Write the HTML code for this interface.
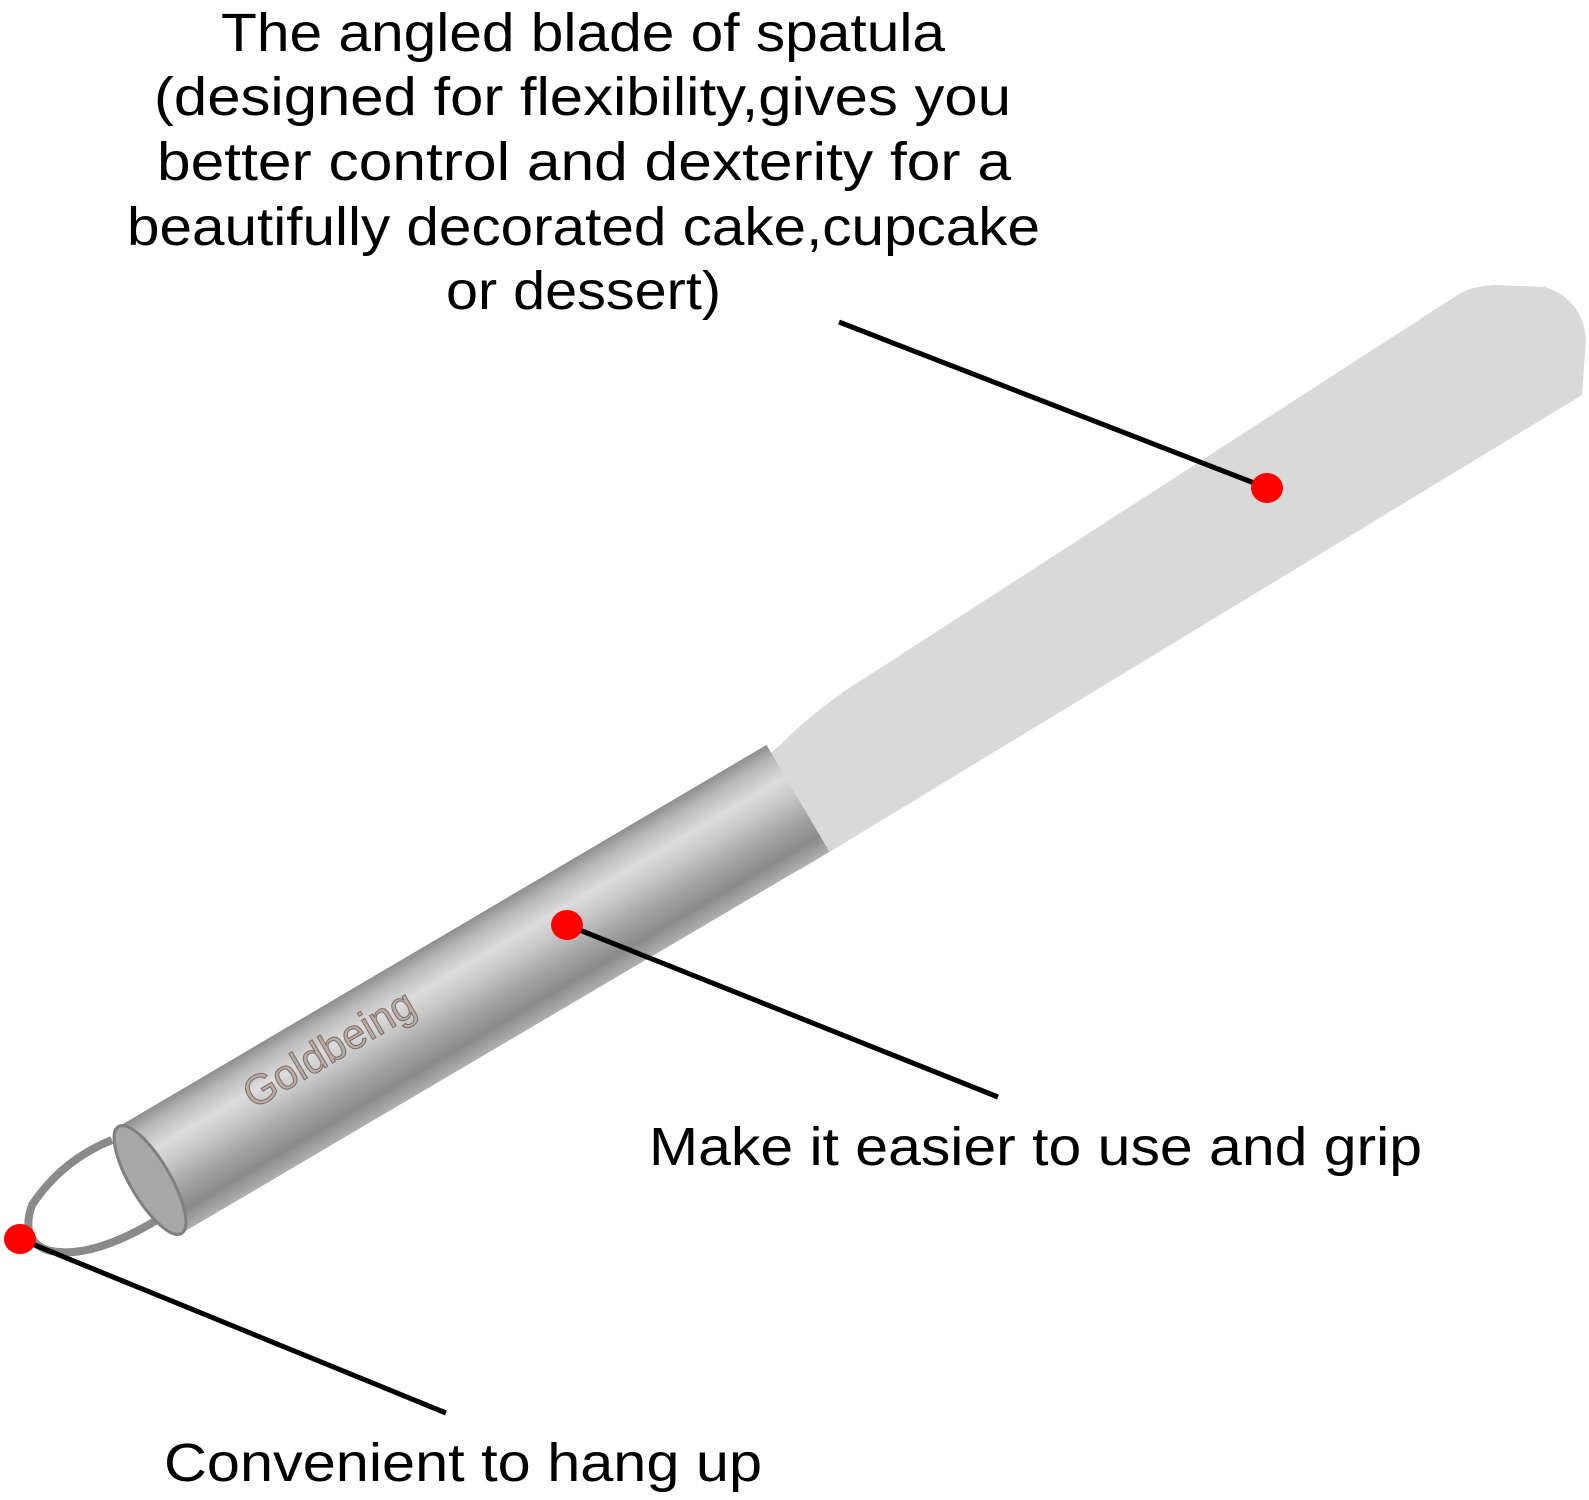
<!DOCTYPE html>
<html><head><style>html,body{margin:0;padding:0;background:#fff;}svg{display:block}</style></head>
<body>
<svg width="1589" height="1500" viewBox="0 0 1589 1500" xmlns="http://www.w3.org/2000/svg">
<defs>
<linearGradient id="hg" x1="0" y1="0" x2="0" y2="1">
<stop offset="0" stop-color="#8e8e8e"/>
<stop offset="0.12" stop-color="#b8b8b8"/>
<stop offset="0.3" stop-color="#dcdcdc"/>
<stop offset="0.45" stop-color="#c9c9c9"/>
<stop offset="0.65" stop-color="#a6a6a6"/>
<stop offset="0.85" stop-color="#8a8a8a"/>
<stop offset="1" stop-color="#b0b0b0"/>
</linearGradient>
</defs>
<g font-family="Liberation Sans, sans-serif" font-size="54" fill="#000">
<text x="221" y="51" textLength="724" lengthAdjust="spacingAndGlyphs">The angled blade of spatula</text>
<text x="154" y="115" textLength="857" lengthAdjust="spacingAndGlyphs">(designed for flexibility,gives you</text>
<text x="157" y="180" textLength="854" lengthAdjust="spacingAndGlyphs">better control and dexterity for a</text>
<text x="127" y="245" textLength="913" lengthAdjust="spacingAndGlyphs">beautifully decorated cake,cupcake</text>
<text x="446" y="309" textLength="275" lengthAdjust="spacingAndGlyphs">or dessert)</text>
<text x="649" y="1165" textLength="773" lengthAdjust="spacingAndGlyphs">Make it easier to use and grip</text>
<text x="164" y="1481" textLength="598" lengthAdjust="spacingAndGlyphs">Convenient to hang up</text>
</g>
<path d="M740,780 L780,745 Q820,705 871,674 L1459,294 Q1472,286 1495,285 L1545,287 Q1583,300 1586,340 L1582,395 L841,845 L800,870 Z" fill="#d9d9d9"/>
<path d="M112,1140 Q62,1160 32,1205 Q20,1240 47,1250 Q92,1262 170,1212" fill="none" stroke="#8a8a8a" stroke-width="8"/>
<g transform="translate(150,1180) rotate(-30.5)">
<rect x="0" y="-62" width="752" height="124" fill="url(#hg)"/>
<ellipse cx="0" cy="0" rx="20" ry="62" fill="#a8a8a8" stroke="#808080" stroke-width="3"/>
<text x="125" y="-8" font-family="Liberation Sans, sans-serif" font-size="42" fill="#b8aca4" stroke="#7a6e66" stroke-width="1">Goldbeing</text>
</g>
<g stroke="#000" stroke-width="5">
<line x1="839" y1="322" x2="1267" y2="488"/>
<line x1="567" y1="925" x2="998" y2="1097"/>
<line x1="20" y1="1239" x2="446" y2="1413"/>
</g>
<g fill="#ff0000">
<ellipse cx="1267" cy="488" rx="16" ry="15"/>
<ellipse cx="567" cy="925" rx="16" ry="15"/>
<ellipse cx="20" cy="1239" rx="16" ry="15"/>
</g>
</svg>
</body></html>
